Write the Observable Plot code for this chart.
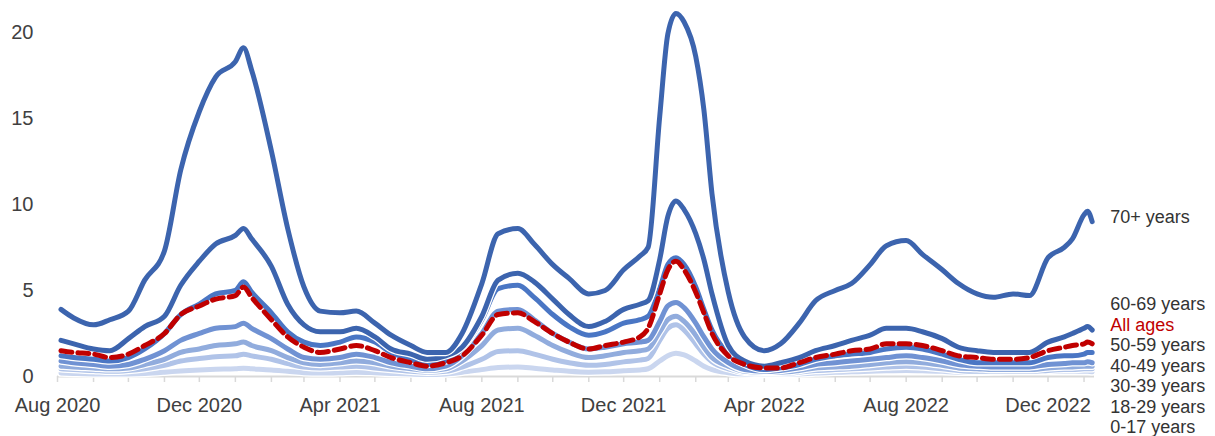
<!DOCTYPE html>
<html><head><meta charset="utf-8">
<script src="https://cdn.jsdelivr.net/npm/d3@7"></script>
<script src="https://cdn.jsdelivr.net/npm/@observablehq/plot@0.6"></script>
<style>
html,body{margin:0;padding:0;background:#fff;}
#chart svg{display:block;}
</style>
</head><body><div id="chart"></div>
<script>
const dates = [
"2020-08-04","2020-08-15","2020-09-01","2020-09-15","2020-10-01","2020-10-15","2020-11-01","2020-11-15","2020-12-01","2020-12-15",
"2021-01-01","2021-01-08","2021-01-15","2021-02-01","2021-02-15","2021-03-01","2021-03-15","2021-04-01","2021-04-15","2021-05-01",
"2021-05-15","2021-06-01","2021-06-15","2021-07-01","2021-07-15","2021-08-01","2021-08-15","2021-09-01","2021-09-15","2021-10-01",
"2021-10-15","2021-11-01","2021-11-15","2021-12-01","2021-12-15","2021-12-22","2022-01-01","2022-01-08","2022-01-15","2022-01-22",
"2022-02-01","2022-02-08","2022-02-15","2022-03-01","2022-03-15","2022-04-01","2022-04-15","2022-05-01","2022-05-15","2022-06-01",
"2022-06-15","2022-07-01","2022-07-15","2022-08-01","2022-08-15","2022-09-01","2022-09-15","2022-10-01","2022-10-15","2022-11-01",
"2022-11-15","2022-12-01","2022-12-15","2022-12-22","2023-01-01","2023-01-04","2023-01-08"];

const age70plus = [
3.9,3.4,3.0,3.3,3.8,5.6,7.3,12.0,15.4,17.4,
18.3,19.1,17.8,13.1,8.6,5.2,3.8,3.7,3.8,3.1,
2.4,1.8,1.4,1.4,2.5,5.4,8.3,8.6,7.7,6.5,
5.7,4.8,5.0,6.2,7.0,7.5,15.1,19.9,21.1,20.6,
18.6,15.5,10.6,4.9,2.3,1.5,1.9,3.1,4.4,5.0,
5.4,6.5,7.6,7.9,7.1,6.2,5.4,4.8,4.6,4.8,
4.7,6.9,7.5,8.0,9.4,9.6,9.0];

const age60to69 = [
2.1,1.9,1.6,1.5,2.2,2.9,3.5,5.3,6.7,7.7,
8.2,8.6,8.0,6.4,4.2,3.0,2.6,2.6,2.8,2.3,
1.6,1.3,1.0,1.2,1.7,3.5,5.6,6.0,5.5,4.5,
3.6,2.9,3.2,3.9,4.2,4.4,6.8,9.3,10.2,9.7,
8.3,6.8,4.8,1.8,0.9,0.6,0.8,1.1,1.5,1.8,
2.1,2.4,2.8,2.8,2.6,2.2,1.7,1.5,1.4,1.4,
1.4,2.0,2.3,2.5,2.8,2.9,2.7];

const age50to59 = [
1.2,1.1,1.0,0.9,1.1,1.6,2.5,3.6,4.2,4.8,
5.0,5.5,4.9,3.7,2.6,2.0,1.8,2.0,2.3,2.0,
1.4,1.0,0.7,0.9,1.6,3.3,5.1,5.3,4.6,3.6,
2.9,2.4,2.6,3.1,3.3,3.5,5.1,6.5,6.9,6.5,
5.2,3.9,2.7,1.3,0.7,0.4,0.5,0.7,1.0,1.2,
1.3,1.4,1.6,1.7,1.6,1.3,1.0,0.8,0.8,0.8,
0.8,1.1,1.2,1.2,1.3,1.4,1.4];

const age40to49 = [
0.9,0.8,0.7,0.6,0.7,1.0,1.5,2.1,2.5,2.8,
2.9,3.1,2.8,2.2,1.6,1.1,1.0,1.1,1.3,1.1,
0.8,0.6,0.45,0.6,1.2,2.5,3.8,3.9,3.3,2.5,
2.0,1.6,1.7,1.9,2.0,2.1,3.2,4.1,4.3,4.0,
3.1,2.3,1.6,0.8,0.4,0.3,0.35,0.5,0.7,0.8,
0.9,1.0,1.1,1.2,1.1,0.9,0.7,0.6,0.55,0.55,
0.55,0.7,0.75,0.8,0.8,0.85,0.8];

const age30to39 = [
0.6,0.55,0.5,0.45,0.5,0.7,1.0,1.4,1.6,1.8,
1.9,2.0,1.8,1.5,1.1,0.8,0.7,0.8,0.9,0.8,
0.6,0.45,0.35,0.45,0.9,1.8,2.7,2.8,2.4,1.8,
1.4,1.1,1.2,1.4,1.5,1.6,2.6,3.3,3.5,3.2,
2.4,1.7,1.1,0.6,0.3,0.25,0.25,0.35,0.5,0.55,
0.6,0.7,0.8,0.85,0.8,0.65,0.5,0.45,0.4,0.4,
0.4,0.5,0.55,0.55,0.6,0.6,0.6];

const age18to29 = [
0.45,0.4,0.35,0.3,0.35,0.45,0.65,0.9,1.05,1.15,
1.2,1.3,1.2,1.0,0.75,0.55,0.5,0.55,0.6,0.5,
0.4,0.3,0.25,0.3,0.55,1.0,1.45,1.5,1.3,1.0,
0.8,0.65,0.7,0.85,0.95,1.05,2.1,2.8,3.0,2.7,
1.9,1.3,0.85,0.45,0.25,0.2,0.2,0.25,0.35,0.4,
0.45,0.5,0.55,0.6,0.55,0.45,0.35,0.3,0.3,0.3,
0.3,0.35,0.4,0.4,0.45,0.45,0.45];

const age0to17 = [
0.2,0.18,0.15,0.14,0.15,0.18,0.25,0.32,0.38,0.42,
0.45,0.48,0.45,0.38,0.3,0.22,0.2,0.22,0.25,0.22,
0.18,0.14,0.12,0.15,0.25,0.4,0.52,0.55,0.48,0.38,
0.3,0.25,0.27,0.33,0.38,0.45,0.9,1.2,1.35,1.25,
0.9,0.6,0.4,0.22,0.14,0.12,0.12,0.15,0.2,0.24,
0.27,0.3,0.33,0.35,0.33,0.3,0.25,0.25,0.27,0.3,
0.3,0.3,0.3,0.3,0.3,0.3,0.28];

const allAges = [
1.5,1.4,1.3,1.1,1.3,1.8,2.5,3.6,4.1,4.5,
4.7,5.2,4.6,3.3,2.3,1.7,1.4,1.6,1.8,1.5,
1.1,0.8,0.6,0.8,1.2,2.4,3.6,3.7,3.2,2.5,
2.0,1.6,1.8,2.0,2.3,2.8,4.8,6.2,6.7,6.2,
4.9,3.7,2.5,1.2,0.7,0.5,0.5,0.8,1.1,1.3,
1.5,1.6,1.9,1.9,1.8,1.5,1.2,1.1,1.0,1.0,
1.1,1.5,1.7,1.8,1.9,2.0,1.9];

// drawn from bottom to top
const seriesNames  = ["0-17 years","18-29 years","30-39 years","40-49 years","50-59 years","60-69 years","70+ years"];
const seriesValues = [age0to17, age18to29, age30to39, age40to49, age50to59, age60to69, age70plus];
const seriesColors = ["#cad6ef","#b0c3e8","#91acdd","#7092d3","#4a76c4","#3c64ae","#3c64ae"];
const allAgesName = "All ages";
const allAgesColor = "#c00000";
const yTicks = [0,5,10,15,20];
const labelEvery = 4; // months between x labels

// layout
const W = 1215, H = 436, mL = 57, mR = 121, mT = 6, mB = 60;
const yDomain = [0, 21.5];
const xDomain = [new Date("2020-08-01"), new Date("2023-01-10")];

const parsed = dates.map(d => new Date(d));
const toRows = (name, vals) => vals.map((v, i) => ({series: name, date: parsed[i], value: v}));

const monthTicks = d3.utcMonth.range(new Date("2020-08-01"), new Date("2023-01-02"));
const labelTicks = monthTicks.filter((d, i) => i % labelEvery === 0);

const lineMarks = seriesNames.flatMap((name, i) => {
  const rows = toRows(name, seriesValues[i]);
  return [
    Plot.lineY(rows, {x: "date", y: "value", stroke: "white", strokeWidth: 7.5, curve: "monotone-x"}),
    Plot.lineY(rows, {x: "date", y: "value", stroke: seriesColors[i], strokeWidth: 5, curve: "monotone-x"})
  ];
});
const allRows = toRows(allAgesName, allAges);
lineMarks.push(Plot.lineY(allRows, {x: "date", y: "value", stroke: allAgesColor, strokeWidth: 5,
  strokeDasharray: "11,6", curve: "monotone-x"}));

// end labels: stacked upward from the bottom of the picture; a label well above the stack stays by its line
const yPix = d3.scaleLinear(yDomain, [H - mB, mT]);
const lastDate = parsed[parsed.length - 1];
const ends = seriesNames.map((n, i) => ({text: n, value: seriesValues[i][seriesValues[i].length - 1], fill: "#333333"}));
ends.push({text: allAgesName, value: allAges[allAges.length - 1], fill: allAgesColor});
ends.sort((a, b) => a.value - b.value);
const gap = 20.5, base = H - 9;
const stacked = ends.slice(), free = [];
while (stacked.length) {
  const top = stacked[stacked.length - 1];
  const stackTop = base - (stacked.length - 1) * gap;
  if (yPix(top.value) < stackTop - gap) free.push(stacked.pop()); else break;
}
stacked.forEach((e, i) => { e.y = yPix.invert(base - i * gap); });
free.forEach(e => { e.y = yPix.invert(yPix(e.value) - 4); });

const chart = Plot.plot({
  width: W, height: H,
  marginLeft: mL, marginRight: mR, marginTop: mT, marginBottom: mB,
  style: {fontFamily: "'Liberation Sans', Arial, sans-serif", fontSize: "20px", color: "#404040", background: "white"},
  x: {type: "utc", domain: xDomain},
  y: {domain: yDomain},
  marks: [
    Plot.ruleY([0], {stroke: "#d9d9d9", strokeWidth: 2}),
    Plot.axisX({ticks: monthTicks, tickSize: 6, tickFormat: () => "", stroke: "#d9d9d9", strokeWidth: 1.5}),
    Plot.axisX({ticks: labelTicks, tickSize: 0, tickPadding: 21, tickFormat: d3.utcFormat("%b %Y"), fontSize: 20, fill: "#404040"}),
    Plot.axisY({ticks: yTicks, tickSize: 0, tickPadding: 24, fontSize: 20, fill: "#404040"}),
    ...lineMarks,
    Plot.text(ends, {x: () => lastDate, y: "y", text: "text", fill: "fill", textAnchor: "start", dx: 18,
      fontSize: 18, lineAnchor: "middle"})
  ]
});
document.getElementById("chart").appendChild(chart);
</script>
</body></html>
